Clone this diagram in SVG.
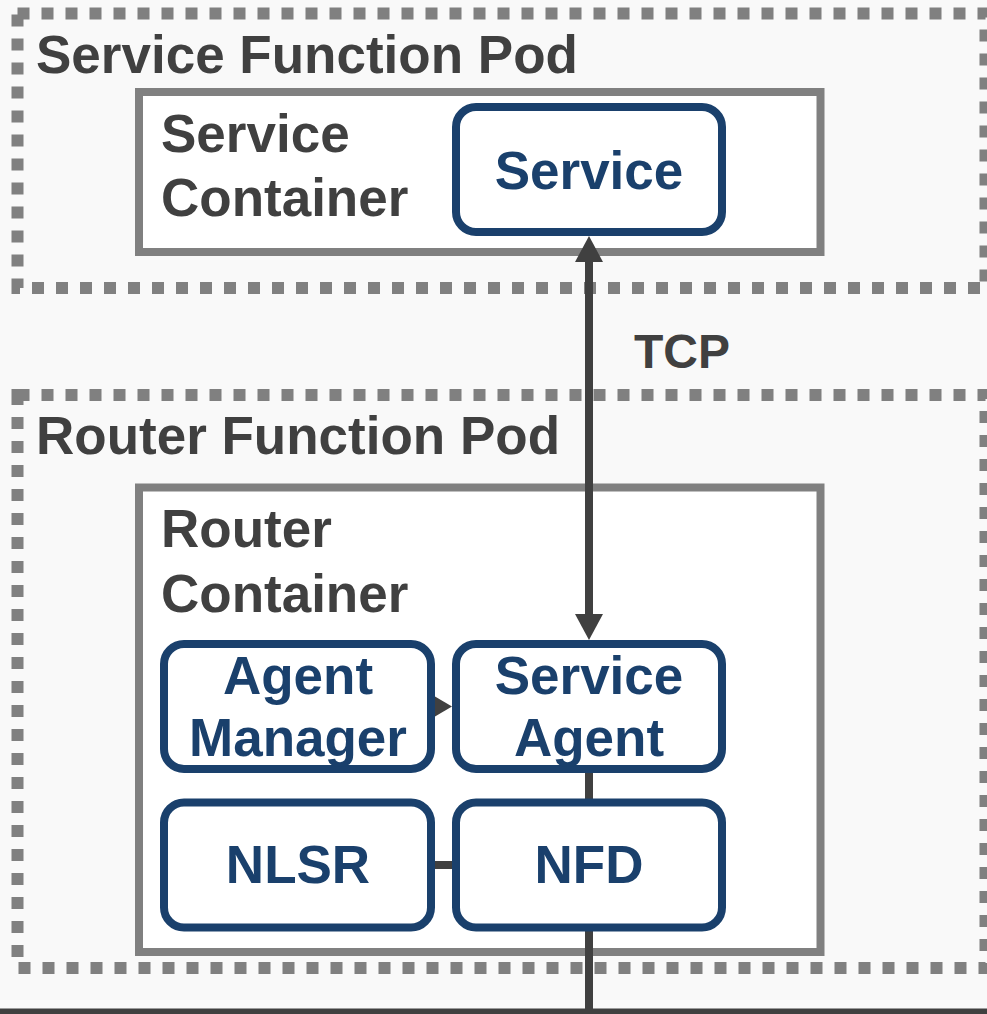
<svg xmlns="http://www.w3.org/2000/svg" width="987" height="1014" viewBox="0 0 987 1014">
  <style>
    .pod { fill: none; stroke: #808080; stroke-width: 12; stroke-dasharray: 12 12; }
    .container { fill: #ffffff; stroke: #808080; stroke-width: 8; }
    .node rect { fill: #ffffff; stroke: #1a406c; stroke-width: 8; }
    .label { font-family: "Liberation Sans", Arial, sans-serif; font-weight: bold; font-size: 53px; fill: #404040; }
    .node text { font-family: "Liberation Sans", Arial, sans-serif; font-weight: bold; font-size: 53px; fill: #1a406c; text-anchor: middle; }
    .link { fill: none; stroke: #404040; stroke-width: 8; }
  </style>
  <defs>
    <marker id="head" markerUnits="userSpaceOnUse" markerWidth="28" markerHeight="30" refX="0" refY="15" orient="auto-start-reverse" overflow="visible">
      <path d="M0,1 L26,15 L0,29 z" fill="#404040"/>
    </marker>
    <marker id="head-small" markerUnits="userSpaceOnUse" markerWidth="18" markerHeight="22" refX="0" refY="11" orient="auto" overflow="visible">
      <path d="M0,1 L17,11 L0,21 z" fill="#404040"/>
    </marker>
  </defs>

  <!-- page background -->
  <rect x="0" y="0" width="987" height="1014" fill="#f9f9f9"/>

  <!-- service function pod -->
  <g id="service-pod">
    <rect class="pod" x="17.5" y="13.5" width="968" height="274.5"/>
    <text class="label" x="36" y="73">Service Function Pod</text>
  </g>
  <g id="service-container">
    <rect class="container" x="139" y="92" width="681.5" height="160"/>
    <text class="label" x="161" y="151.5">Service</text>
    <text class="label" x="161" y="216">Container</text>
  </g>

  <!-- router function pod -->
  <g id="router-pod">
    <rect class="pod" x="17.5" y="395" width="968" height="573"/>
    <text class="label" x="36" y="454">Router Function Pod</text>
  </g>
  <g id="router-container">
    <rect class="container" x="139" y="487.5" width="681.5" height="464.5"/>
    <text class="label" x="161" y="547">Router</text>
    <text class="label" x="161" y="611.5">Container</text>
  </g>

  <!-- connectors -->
  <g id="connectors">
    <path class="link" d="M589,262 L589,614" marker-start="url(#head)" marker-end="url(#head)"/>
    <text class="label" x="682" y="368" text-anchor="middle" style="font-size:48px">TCP</text>
    <path class="link" d="M420,706.5 L435,706.5" stroke-width="6" marker-end="url(#head-small)"/>
    <path class="link" d="M589,769 L589,802.5"/>
    <path class="link" d="M431,865 L456,865" stroke-width="7"/>
    <path class="link" d="M589,927.5 L589,1014"/>
    <path class="link" d="M0,1012.5 L987,1012.5" stroke-width="3"/>
  </g>

  <!-- nodes -->
  <g id="service" class="node">
    <rect x="456" y="107" width="266" height="125" rx="20"/>
    <text x="589" y="189">Service</text>
  </g>
  <g id="agent-manager" class="node">
    <rect x="164" y="644" width="267" height="125" rx="20"/>
    <text x="298" y="694">Agent</text>
    <text x="298" y="756">Manager</text>
  </g>
  <g id="service-agent" class="node">
    <rect x="456" y="644" width="266" height="125" rx="20"/>
    <text x="589" y="694">Service</text>
    <text x="589" y="756">Agent</text>
  </g>
  <g id="nlsr" class="node">
    <rect x="164" y="802.5" width="267" height="125" rx="20"/>
    <text x="298" y="883">NLSR</text>
  </g>
  <g id="nfd" class="node">
    <rect x="456" y="802.5" width="266" height="125" rx="20"/>
    <text x="589" y="883">NFD</text>
  </g>
</svg>
